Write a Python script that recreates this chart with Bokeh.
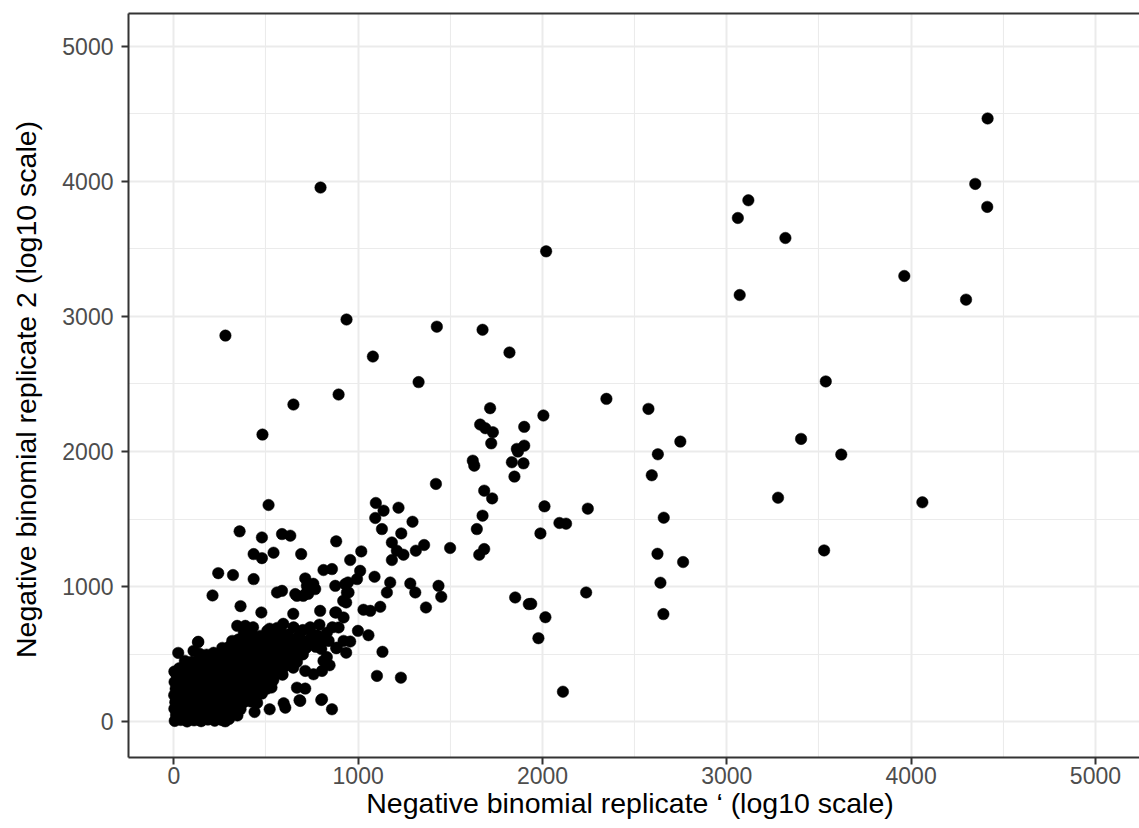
from bokeh.plotting import figure
from bokeh.models import FixedTicker, LinearAxis, Range1d, ColumnDataSource
from bokeh.embed import file_html
from bokeh.resources import INLINE

# ---- tick / label data ----
x_ticks = [0, 1000, 2000, 3000, 4000, 5000]
y_ticks = [0, 1000, 2000, 3000, 4000, 5000]
x_minor = [500, 1500, 2500, 3500, 4500]
y_minor = [500, 1500, 2500, 3500, 4500]

x_label = "Negative binomial  replicate \u2018 (log10 scale)"
y_label = "Negative binomial  replicate 2 (log10 scale)"

# ---- points (replicate 1, replicate 2) ----
core_pts = [
    (5, 8), (38, 15), (72, 4), (110, 12), (148, 6), (185, 18), (222, 9), (262, 14), (300, 22),
    (12, 52), (48, 60), (85, 48), (120, 58), (160, 45), (198, 62), (235, 50), (275, 57), (318, 66), (345, 48),
    (3, 98), (30, 105), (66, 92), (102, 110), (140, 96), (178, 104), (215, 93), (252, 108), (290, 99), (330, 112), (362, 95),
    (8, 146), (45, 155), (80, 142), (118, 160), (155, 148), (192, 152), (230, 140), (268, 158), (305, 150), (342, 162), (380, 147), (418, 152), (452, 141),
    (2, 198), (35, 205), (70, 192), (108, 210), (145, 196), (182, 204), (220, 190), (258, 208), (296, 199), (335, 214), (372, 195), (410, 206), (448, 198), (478, 210),
    (10, 245), (52, 256), (90, 242), (128, 258), (165, 248), (205, 252), (242, 240), (280, 262), (318, 250), (356, 244), (395, 258), (432, 249), (470, 262), (505, 246), (530, 255),
    (4, 296), (42, 305), (78, 292), (116, 310), (154, 298), (190, 302), (228, 294), (266, 312), (304, 300), (342, 308), (380, 295), (418, 310), (455, 298), (492, 305), (525, 292), (540, 310),
    (15, 348), (55, 356), (95, 342), (132, 358), (170, 346), (208, 352), (246, 340), (285, 362), (322, 350), (360, 344), (398, 358), (436, 349), (474, 362), (512, 346), (548, 354), (590, 350),
    (30, 398), (68, 405), (106, 392), (144, 410), (182, 396), (220, 404), (258, 392), (296, 412), (334, 398), (372, 406), (410, 394), (448, 410), (486, 398), (524, 406), (562, 396), (600, 410), (648, 402),
    (60, 452), (98, 446), (136, 460), (174, 448), (212, 455), (250, 442), (288, 462), (326, 450), (364, 444), (402, 458), (440, 450), (478, 462), (516, 446), (554, 456), (592, 448), (630, 460), (668, 445),
    (24, 511), (107, 526), (140, 505), (178, 498), (216, 512), (254, 500), (292, 508), (330, 496), (368, 512), (406, 502), (444, 510), (482, 498), (520, 514), (558, 500), (596, 508), (634, 496), (672, 512), (700, 500),
    (200, 474), (263, 548), (300, 556), (338, 544), (376, 560), (414, 548), (452, 556), (490, 544), (528, 560), (566, 548), (604, 556), (642, 544), (680, 560), (718, 548), (770, 556),
    (133, 593), (317, 600), (350, 610), (388, 596), (426, 606), (464, 598), (502, 612), (540, 600), (578, 606), (616, 596), (654, 610), (692, 598), (740, 610), (800, 620),
    (380, 660), (420, 648), (469, 637), (507, 674), (545, 652), (583, 660), (620, 648), (680, 640), (750, 650), (780, 640), (830, 660),
    (344, 711), (388, 711), (430, 700), (520, 690), (561, 696), (594, 726), (650, 700), (700, 680), (740, 700), (790, 720), (860, 700),
]

band_pts = [
    (713, 378), (758, 353), (804, 378), (812, 452), (830, 480), (845, 420), (885, 550), (921, 600),
    (840, 600), (760, 580), (800, 540), (720, 600), (660, 560),
]

mid_pts = [
    (514, 1605), (1422, 1761), (357, 1410), (478, 1365), (587, 1390), (632, 1378), (881, 1336), (433, 1242),
    (478, 1212), (541, 1252), (691, 1242), (241, 1101), (321, 1087), (433, 1057), (210, 936), (362, 857), (475, 810),
    (1096, 1620), (1138, 1563), (1093, 1509), (1129, 1427), (1219, 1585), (1295, 1481), (1234, 1395), (1183, 1328),
    (1210, 1267), (1246, 1237), (1183, 1198), (1313, 1267), (1358, 1309), (1499, 1287),
    (957, 1198), (1017, 1262), (812, 1124), (858, 1131), (713, 1062), (1011, 1118), (994, 1057), (1089, 1074),
    (1174, 1032), (1156, 958), (945, 1032), (939, 958), (1283, 1024), (1310, 958), (1436, 1007), (1451, 926),
    (1368, 847), (1120, 852), (1066, 822), (1029, 830),
    (999, 674), (1056, 642), (957, 595), (1132, 519), (1102, 341), (1232, 328), (881, 546), (935, 513), (818, 605),
    (858, 94), (800, 163), (682, 161), (668, 254), (713, 247), (596, 139), (605, 106), (520, 94), (438, 74),
    (334, 69), (279, 5), (131, 590), (3, 373),
    (560, 958), (587, 970), (668, 933), (722, 958), (659, 946), (718, 950), (794, 822), (876, 810), (876, 1007),
    (919, 896), (722, 1007), (767, 983), (686, 156), (804, 168),
    (930, 1020), (948, 958), (935, 884), (881, 810), (921, 773), (894, 699), (648, 800), (702, 933), (729, 948), (757, 1022),
]

right_pts = [
    (1427, 2924), (1675, 2901), (1821, 2733), (1328, 2514), (1716, 2321), (1662, 2200), (1690, 2173), (1731, 2143),
    (1901, 2183), (1722, 2061), (1861, 2020), (1901, 2044), (1867, 2000), (1834, 1921), (1897, 1913), (1848, 1815),
    (1622, 1933), (1630, 1896), (1684, 1711), (1727, 1654), (1675, 1526), (1644, 1427), (1684, 1279), (1657, 1237),
    (2005, 2267), (2011, 1595), (2246, 1578), (2092, 1472), (2128, 1467), (1989, 1395), (2237, 958), (1939, 874),
    (2016, 775), (1978, 620), (2111, 224), (1852, 921), (1926, 872),
    (2347, 2390), (2575, 2316), (2748, 2074), (2626, 1980), (2593, 1825), (2658, 1511), (2624, 1244), (2763, 1183),
    (2640, 1030), (2656, 798),
]

high_pts = [
    (2020, 3481), (3117, 3859), (3060, 3728), (3318, 3580), (3070, 3158), (3537, 2519), (3403, 2094), (3278, 1659),
    (3528, 1269), (3621, 1978), (4061, 1625), (4415, 4464), (4348, 3980), (4413, 3810), (3963, 3299), (4298, 3124),
]

left_high_pts = [
    (796, 3953), (280, 2858), (937, 2977), (1080, 2703), (894, 2422), (649, 2348), (481, 2126),
]

all_pts = core_pts + band_pts + mid_pts + right_pts + high_pts + left_high_pts
src = ColumnDataSource(data=dict(
    rep1=[p[0] for p in all_pts],
    rep2=[p[1] for p in all_pts],
))

FONT = "Liberation Sans"
BORDER = "#333333"
GRID = "#EBEBEB"

p = figure(
    frame_width=1011, frame_height=744,
    x_range=Range1d(-245.8, 5239.0), y_range=Range1d(-262.6, 5240.4),
    output_backend="svg", toolbar_location=None,
    min_border_left=128, min_border_right=0, min_border_top=13, min_border_bottom=71,
    x_axis_label=x_label, y_axis_label=y_label,
)
p.background_fill_color = "white"
p.border_fill_color = "white"
p.outline_line_color = None

xt = FixedTicker(ticks=x_ticks, minor_ticks=x_minor)
yt = FixedTicker(ticks=y_ticks, minor_ticks=y_minor)
p.xaxis.ticker = xt
p.yaxis.ticker = yt
p.xgrid.ticker = xt
p.ygrid.ticker = yt

for g in (p.xgrid, p.ygrid):
    g.grid_line_color = GRID
    g.grid_line_width = 2
    g.minor_grid_line_color = GRID
    g.minor_grid_line_width = 1.1

for ax in (p.xaxis, p.yaxis):
    ax.axis_line_color = BORDER
    ax.axis_line_width = 2
    ax.major_tick_line_color = BORDER
    ax.major_tick_line_width = 2
    ax.major_tick_out = 7
    ax.major_tick_in = 0
    ax.minor_tick_out = 0
    ax.minor_tick_in = 0
    ax.major_label_text_font = FONT
    ax.major_label_text_font_size = "23px"
    ax.major_label_text_color = "#4D4D4D"
    ax.axis_label_text_font = FONT
    ax.axis_label_text_font_size = "28.5px"
    ax.axis_label_text_font_style = "normal"
    ax.axis_label_text_color = "black"

p.xaxis.major_label_standoff = 2
p.xaxis.axis_label_standoff = 0
p.yaxis.major_label_standoff = 8
p.yaxis.axis_label_standoff = 17

# top panel border
top = LinearAxis(ticker=FixedTicker(ticks=[]), axis_line_color=BORDER, axis_line_width=2,
                 major_tick_out=0, major_tick_in=0, minor_tick_out=0, minor_tick_in=0,
                 major_label_standoff=0, major_label_text_font_size="0px")
p.add_layout(top, "above")

p.scatter("rep1", "rep2", source=src, size=11.5, fill_color="black", line_color="black", line_width=0.5)

open("out.html", "w").write(file_html(p, INLINE))
